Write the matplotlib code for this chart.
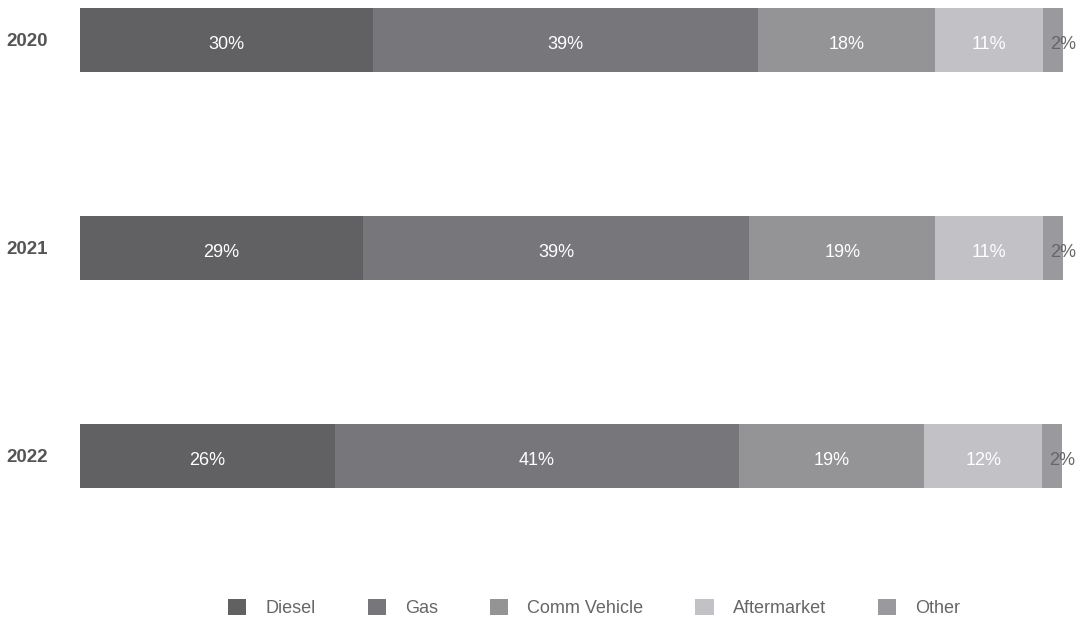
import matplotlib
matplotlib.use("Agg")
import matplotlib.pyplot as plt
from matplotlib.patches import Patch
import numpy as np

plt.rcParams['font.family'] = ['Liberation Sans', 'DejaVu Sans']

years = ["2020", "2021", "2022"]
segments = ["Diesel", "Gas", "Comm Vehicle", "Aftermarket", "Other"]
diesel = [29.8, 28.8, 25.9]
gas = [39.2, 39.3, 41.1]
comm_vehicle = [18.0, 18.9, 18.9]
aftermarket = [11.0, 11.0, 12.0]
other = [2.0, 2.0, 2.0]
labels = [
    ["30%", "39%", "18%", "11%", "2%"],
    ["29%", "39%", "19%", "11%", "2%"],
    ["26%", "41%", "19%", "12%", "2%"],
]
colors = ["#616063", "#77777b", "#949497", "#c2c2c6", "#9a999d"]

series = [diesel, gas, comm_vehicle, aftermarket, other]

fig = plt.figure(figsize=(10.81, 6.18), dpi=100)
W, H = 1081, 618
ax = fig.add_axes([80 / W, 1 - 560 / H, (1063 - 80) / W, 560 / H])

y = np.arange(len(years))
left = np.zeros(len(years))
for si, (name, vals, c) in enumerate(zip(segments, series, colors)):
    vals = np.array(vals)
    ax.barh(y, vals, left=left, height=64 / 208, color=c, label=name)
    for yi in range(len(years)):
        ty = y[yi] + 0.01
        if si == len(segments) - 1:
            ax.text(left[yi] + vals[yi] * 0.35, ty, labels[yi][si], ha='left', va='center_baseline',
                    color="#666666", fontsize=13)
        else:
            ax.text(left[yi] + vals[yi] / 2, ty, labels[yi][si], ha='center', va='center_baseline',
                    color="white", fontsize=13)
    left = left + vals

ax.set_xlim(0, left.max())
ax.set_ylim(2 + 104 / 208, -40 / 208)
ax.set_yticks(y)
ax.set_yticklabels(years, fontsize=13.5, fontweight='bold', color="#555555", va='center_baseline')
ax.tick_params(axis='y', length=0, pad=23)
ax.set_xticks([])
for s in ax.spines.values():
    s.set_visible(False)

handles = [Patch(facecolor=c, edgecolor='none') for c in colors]
fig.legend(handles, segments, loc='center', bbox_to_anchor=(594 / W, 1 - 608 / H), ncol=5,
           frameon=False, fontsize=13, labelcolor="#666666", handlelength=1.0, handleheight=1.0,
           handletextpad=1.05, columnspacing=2.9)

fig.savefig("out.png", dpi=100)
